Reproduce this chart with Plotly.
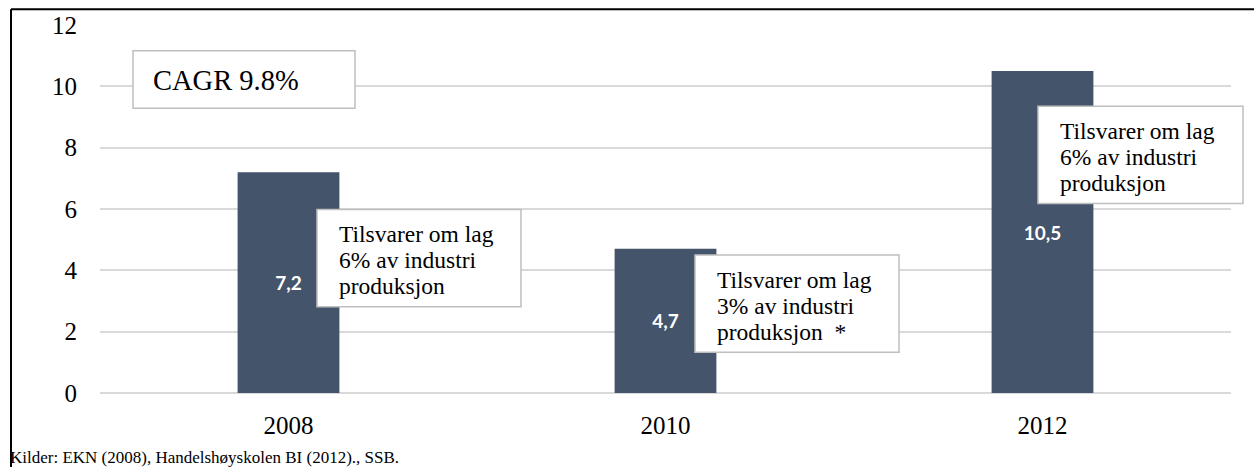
import plotly.graph_objects as go

# ---- data ----
years = ["2008", "2010", "2012"]
values = [7.2, 4.7, 10.5]
y_ticks = [0, 2, 4, 6, 8, 10, 12]
box_lines = [
    ["Tilsvarer om lag", "6% av industri", "produksjon"],
    ["Tilsvarer om lag", "3% av industri", "produksjon  *"],
    ["Tilsvarer om lag", "6% av industri", "produksjon"],
]
cagr_text = "CAGR 9.8%"
source_text = "Kilder: EKN (2008), Handelshøyskolen BI (2012)., SSB."

# ---- layout geometry (pixels) ----
W, H = 1254, 467
ML, MR, MT, MB = 100, 23, 22, 74
PW = W - ML - MR
PH = H - MT - MB


def px(x):
    return (x - ML) / PW


def py(y):
    return (H - MB - y) / PH


SERIF = "Liberation Serif"
BAR_COLOR = "#44546A"
GRID = "#D9D9D9"
BOX_LINE = "#BFBFBF"

fig = go.Figure()
fig.add_trace(go.Bar(
    x=years, y=values,
    marker=dict(color=BAR_COLOR, line=dict(width=0)),
    texttemplate="%{y:.1f}",
    textposition="inside",
    insidetextanchor="middle",
    textangle=0,
    textfont=dict(color="white", size=19, family="Lato", weight="bold"),
    hoverinfo="skip",
))

shapes = []
annotations = []

# outer frame (top and left lines)
shapes.append(dict(type="line", xref="paper", yref="paper",
                   x0=px(11), x1=px(1260), y0=py(6), y1=py(6),
                   line=dict(color="black", width=2)))
shapes.append(dict(type="line", xref="paper", yref="paper",
                   x0=px(11), x1=px(11), y0=py(6), y1=py(480),
                   line=dict(color="black", width=2)))

# boxes: (x0, y0, x1, y1) in pixels
boxes = [(317, 208, 521, 306), (695, 254, 899, 352), (1038, 104, 1243, 202)]
line_offsets = [25, 51, 77]
for (x0, y0, x1, y1), lines in zip(boxes, box_lines):
    shapes.append(dict(type="rect", xref="paper", yref="paper", layer="above",
                       x0=px(x0), x1=px(x1), y0=py(y1), y1=py(y0),
                       fillcolor="white", line=dict(color=BOX_LINE, width=1.5)))
    for off, t in zip(line_offsets, lines):
        annotations.append(dict(xref="paper", yref="paper", x=px(x0 + 20), y=py(y0 + off),
                                xanchor="left", yanchor="middle", align="left",
                                text=t, showarrow=False,
                                font=dict(family=SERIF, size=23.5, color="black")))

# CAGR box
shapes.append(dict(type="rect", xref="paper", yref="paper", layer="above",
                   x0=px(133), x1=px(355), y0=py(106), y1=py(48),
                   fillcolor="white", line=dict(color=BOX_LINE, width=1.5)))
annotations.append(dict(xref="paper", yref="paper", x=px(151), y=py(78),
                        xanchor="left", yanchor="middle", align="left",
                        text=cagr_text, showarrow=False,
                        font=dict(family=SERIF, size=28.5, color="black")))

# source
annotations.append(dict(xref="paper", yref="paper", x=px(8), y=py(458),
                        xanchor="left", yanchor="middle", align="left",
                        text=source_text, showarrow=False,
                        font=dict(family=SERIF, size=17, color="black")))

fig.update_layout(
    width=W, height=H,
    margin=dict(l=ML, r=MR, t=MT, b=MB),
    paper_bgcolor="white", plot_bgcolor="white",
    separators=", ",
    bargap=0.73,
    showlegend=False,
    shapes=shapes,
    annotations=annotations,
    xaxis=dict(type="category", showgrid=False, showline=False, ticks="",
               tickfont=dict(family=SERIF, size=25, color="black"),
               ticklabelstandoff=15),
    yaxis=dict(range=[0, 12], tickvals=y_ticks, showgrid=True, gridcolor=GRID, gridwidth=1.5,
               zeroline=True, zerolinecolor=GRID, zerolinewidth=1.5,
               showline=False, ticks="",
               tickfont=dict(family=SERIF, size=25, color="black"),
               ticklabelstandoff=22),
)

fig.write_html("out.html", config={"displayModeBar": False},
               post_script="document.body.style.margin='0px';")
